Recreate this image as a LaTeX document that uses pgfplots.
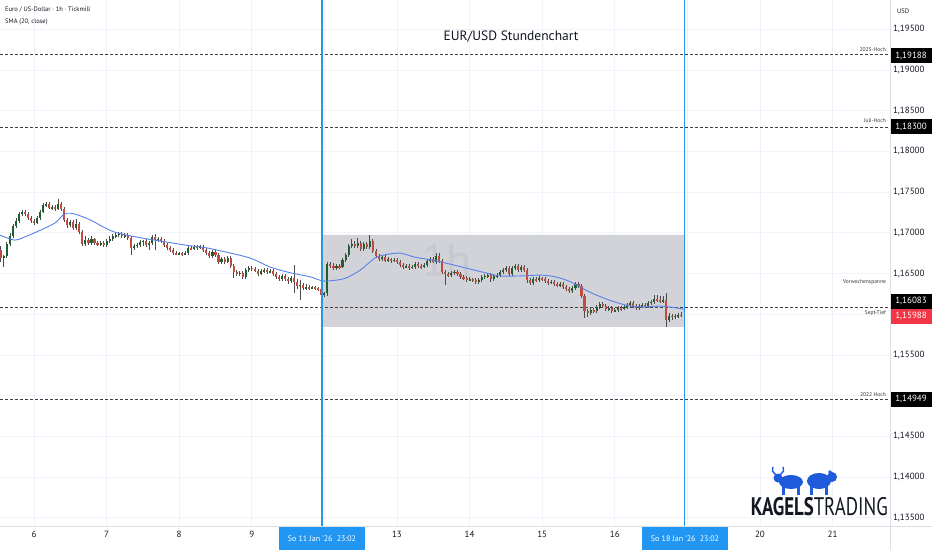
\documentclass[border=0pt]{standalone}
\usepackage{pgfplots}
\pgfplotsset{compat=1.18}
\usepackage{pgfplotstable}
\usepackage{fontspec}
\setmainfont{PT Sans}
\usepackage{graphicx}

\definecolor{gridc}{RGB}{240,243,250}
\definecolor{sepc}{RGB}{220,223,230}
\definecolor{txtc}{RGB}{19,23,34}
\definecolor{vlinec}{RGB}{41,150,230}
\definecolor{datebox}{RGB}{33,150,243}
\definecolor{boxc}{RGB}{210,211,216}
\definecolor{wmc}{RGB}{200,201,207}
\definecolor{upc}{RGB}{30,95,48}
\definecolor{dnc}{RGB}{196,74,62}
\definecolor{wickc}{RGB}{75,75,75}
\definecolor{smac}{RGB}{88,130,235}
\definecolor{redlab}{RGB}{242,54,69}
\definecolor{logoblue}{RGB}{30,90,220}

\pgfplotstableread{
i o h l c
-11 1.1679 1.1684 1.1664 1.1669
-10 1.1669 1.1673 1.1658 1.1672
-9 1.1672 1.1689 1.1669 1.1686
-8 1.1686 1.1700 1.1684 1.1696
-7 1.1696 1.1711 1.1694 1.1708
-6 1.1708 1.1718 1.1706 1.1715
-5 1.1715 1.1726 1.1712 1.1723
-4 1.1723 1.1728 1.1721 1.1726
-3 1.1726 1.1728 1.1721 1.1723
-2 1.1723 1.1726 1.1716 1.1718
-1 1.1718 1.1721 1.1712 1.1715
0 1.1715 1.1717 1.1710 1.1712
1 1.1712 1.1721 1.1711 1.1718
2 1.1718 1.1728 1.1716 1.1726
3 1.1726 1.1737 1.1724 1.1734
4 1.1734 1.1738 1.1732 1.1735
5 1.1735 1.1738 1.1729 1.1730
6 1.1730 1.1734 1.1728 1.1732
7 1.1732 1.1734 1.1727 1.1729
8 1.1729 1.1742 1.1728 1.1735
9 1.1735 1.1738 1.1727 1.1729
10 1.1729 1.1732 1.1713 1.1716
11 1.1716 1.1718 1.1706 1.1710
12 1.1710 1.1716 1.1707 1.1713
13 1.1713 1.1716 1.1703 1.1706
14 1.1706 1.1717 1.1703 1.1711
15 1.1711 1.1713 1.1699 1.1701
16 1.1701 1.1703 1.1684 1.1686
17 1.1686 1.1696 1.1684 1.1691
18 1.1691 1.1694 1.1685 1.1687
19 1.1687 1.1696 1.1685 1.1692
20 1.1692 1.1694 1.1685 1.1687
21 1.1687 1.1690 1.1684 1.1686
22 1.1686 1.1690 1.1684 1.1687
23 1.1687 1.1690 1.1683 1.1685
24 1.1685 1.1692 1.1683 1.1690
25 1.1690 1.1696 1.1687 1.1692
26 1.1692 1.1699 1.1690 1.1696
27 1.1696 1.1700 1.1694 1.1697
28 1.1697 1.1701 1.1695 1.1699
29 1.1699 1.1701 1.1694 1.1696
30 1.1696 1.1700 1.1694 1.1697
31 1.1697 1.1700 1.1691 1.1694
32 1.1694 1.1696 1.1673 1.1681
33 1.1681 1.1686 1.1679 1.1684
34 1.1684 1.1687 1.1681 1.1685
35 1.1685 1.1691 1.1683 1.1689
36 1.1689 1.1691 1.1684 1.1690
37 1.1690 1.1692 1.1683 1.1685
38 1.1685 1.1690 1.1679 1.1687
39 1.1687 1.1697 1.1685 1.1695
40 1.1695 1.1699 1.1679 1.1691
41 1.1691 1.1695 1.1689 1.1692
42 1.1692 1.1695 1.1687 1.1690
43 1.1690 1.1692 1.1683 1.1685
44 1.1685 1.1687 1.1679 1.1681
45 1.1681 1.1684 1.1676 1.1679
46 1.1679 1.1681 1.1673 1.1675
47 1.1675 1.1678 1.1673 1.1674
48 1.1674 1.1676 1.1673 1.1675
49 1.1675 1.1676 1.1672 1.1674
50 1.1674 1.1678 1.1673 1.1675
51 1.1675 1.1684 1.1673 1.1681
52 1.1681 1.1684 1.1679 1.1680
53 1.1680 1.1685 1.1679 1.1683
54 1.1683 1.1685 1.1679 1.1681
55 1.1681 1.1685 1.1680 1.1683
56 1.1683 1.1685 1.1676 1.1679
57 1.1679 1.1681 1.1673 1.1675
58 1.1675 1.1678 1.1669 1.1672
59 1.1672 1.1679 1.1669 1.1676
60 1.1676 1.1679 1.1670 1.1673
61 1.1673 1.1675 1.1662 1.1664
62 1.1664 1.1670 1.1662 1.1668
63 1.1668 1.1670 1.1662 1.1664
64 1.1664 1.1672 1.1663 1.1669
65 1.1669 1.1672 1.1657 1.1659
66 1.1659 1.1662 1.1644 1.1652
67 1.1652 1.1654 1.1647 1.1649
68 1.1649 1.1653 1.1647 1.1651
69 1.1651 1.1653 1.1643 1.1646
70 1.1646 1.1657 1.1643 1.1654
71 1.1654 1.1659 1.1652 1.1657
72 1.1657 1.1659 1.1653 1.1656
73 1.1656 1.1658 1.1652 1.1653
74 1.1653 1.1656 1.1647 1.1649
75 1.1649 1.1656 1.1648 1.1653
76 1.1653 1.1657 1.1651 1.1654
77 1.1654 1.1657 1.1649 1.1652
78 1.1652 1.1656 1.1651 1.1653
79 1.1653 1.1656 1.1647 1.1649
80 1.1649 1.1652 1.1643 1.1646
81 1.1646 1.1648 1.1641 1.1643
82 1.1643 1.1649 1.1641 1.1647
83 1.1647 1.1649 1.1641 1.1643
84 1.1643 1.1646 1.1637 1.1641
85 1.1641 1.1647 1.1638 1.1644
86 1.1644 1.1660 1.1626 1.1640
87 1.1640 1.1643 1.1631 1.1635
88 1.1635 1.1642 1.1617 1.1636
89 1.1636 1.1638 1.1630 1.1632
90 1.1632 1.1637 1.1630 1.1633
91 1.1633 1.1636 1.1630 1.1632
92 1.1632 1.1635 1.1631 1.1633
93 1.1633 1.1635 1.1630 1.1632
94 1.1632 1.1633 1.1628 1.1631
95 1.1631 1.1633 1.1621 1.1624
96 1.1624 1.1627 1.1621 1.1626
97 1.1626 1.1664 1.1622 1.1662
98 1.1662 1.1664 1.1657 1.1659
99 1.1659 1.1663 1.1654 1.1657
100 1.1657 1.1662 1.1654 1.1659
101 1.1659 1.1662 1.1656 1.1658
102 1.1658 1.1669 1.1657 1.1667
103 1.1667 1.1675 1.1664 1.1673
104 1.1673 1.1686 1.1670 1.1684
105 1.1684 1.1692 1.1681 1.1686
106 1.1686 1.1690 1.1681 1.1684
107 1.1684 1.1694 1.1681 1.1687
108 1.1687 1.1690 1.1678 1.1680
109 1.1680 1.1689 1.1678 1.1686
110 1.1686 1.1689 1.1680 1.1683
111 1.1683 1.1697 1.1680 1.1690
112 1.1690 1.1692 1.1675 1.1678
113 1.1678 1.1680 1.1669 1.1672
114 1.1672 1.1674 1.1665 1.1668
115 1.1668 1.1673 1.1665 1.1670
116 1.1670 1.1673 1.1664 1.1665
117 1.1665 1.1670 1.1664 1.1668
118 1.1668 1.1669 1.1663 1.1665
119 1.1665 1.1669 1.1664 1.1667
120 1.1667 1.1669 1.1662 1.1664
121 1.1664 1.1667 1.1658 1.1660
122 1.1660 1.1663 1.1656 1.1658
123 1.1658 1.1662 1.1657 1.1659
124 1.1659 1.1662 1.1654 1.1657
125 1.1657 1.1660 1.1656 1.1658
126 1.1658 1.1664 1.1656 1.1662
127 1.1662 1.1664 1.1657 1.1659
128 1.1659 1.1662 1.1656 1.1658
129 1.1658 1.1663 1.1657 1.1660
130 1.1660 1.1668 1.1658 1.1665
131 1.1665 1.1670 1.1663 1.1668
132 1.1668 1.1670 1.1663 1.1664
133 1.1664 1.1675 1.1662 1.1672
134 1.1672 1.1675 1.1663 1.1665
135 1.1665 1.1668 1.1649 1.1652
136 1.1652 1.1654 1.1636 1.1649
137 1.1649 1.1652 1.1646 1.1648
138 1.1648 1.1653 1.1646 1.1651
139 1.1651 1.1654 1.1648 1.1652
140 1.1652 1.1654 1.1647 1.1649
141 1.1649 1.1652 1.1643 1.1646
142 1.1646 1.1648 1.1642 1.1644
143 1.1644 1.1647 1.1640 1.1642
144 1.1642 1.1646 1.1641 1.1643
145 1.1643 1.1644 1.1640 1.1642
146 1.1642 1.1644 1.1637 1.1640
147 1.1640 1.1644 1.1637 1.1642
148 1.1642 1.1648 1.1640 1.1646
149 1.1646 1.1649 1.1643 1.1647
150 1.1647 1.1651 1.1644 1.1648
151 1.1648 1.1651 1.1640 1.1643
152 1.1643 1.1649 1.1641 1.1647
153 1.1647 1.1651 1.1644 1.1648
154 1.1648 1.1654 1.1646 1.1652
155 1.1652 1.1657 1.1649 1.1654
156 1.1654 1.1659 1.1652 1.1657
157 1.1657 1.1659 1.1647 1.1649
158 1.1649 1.1659 1.1647 1.1657
159 1.1657 1.1662 1.1654 1.1659
160 1.1659 1.1662 1.1652 1.1654
161 1.1654 1.1660 1.1652 1.1658
162 1.1658 1.1660 1.1652 1.1654
163 1.1654 1.1657 1.1638 1.1642
164 1.1642 1.1644 1.1636 1.1638
165 1.1638 1.1646 1.1636 1.1643
166 1.1643 1.1646 1.1640 1.1642
167 1.1642 1.1647 1.1640 1.1644
168 1.1644 1.1646 1.1641 1.1643
169 1.1643 1.1646 1.1638 1.1641
170 1.1641 1.1643 1.1636 1.1638
171 1.1638 1.1642 1.1637 1.1640
172 1.1640 1.1642 1.1635 1.1637
173 1.1637 1.1640 1.1633 1.1636
174 1.1636 1.1640 1.1633 1.1637
175 1.1637 1.1640 1.1631 1.1633
176 1.1633 1.1636 1.1628 1.1631
177 1.1631 1.1633 1.1626 1.1628
178 1.1628 1.1635 1.1626 1.1632
179 1.1632 1.1640 1.1630 1.1637
180 1.1637 1.1640 1.1632 1.1635
181 1.1635 1.1637 1.1620 1.1622
182 1.1622 1.1625 1.1595 1.1604
183 1.1604 1.1606 1.1597 1.1601
184 1.1601 1.1608 1.1599 1.1605
185 1.1605 1.1608 1.1601 1.1604
186 1.1604 1.1611 1.1601 1.1609
187 1.1609 1.1615 1.1606 1.1613
188 1.1613 1.1615 1.1608 1.1610
189 1.1610 1.1613 1.1604 1.1606
190 1.1606 1.1610 1.1604 1.1608
191 1.1608 1.1610 1.1601 1.1604
192 1.1604 1.1608 1.1603 1.1605
193 1.1605 1.1610 1.1603 1.1608
194 1.1608 1.1610 1.1604 1.1606
195 1.1606 1.1611 1.1605 1.1609
196 1.1609 1.1614 1.1606 1.1611
197 1.1611 1.1616 1.1609 1.1614
198 1.1614 1.1616 1.1608 1.1610
199 1.1610 1.1613 1.1605 1.1608
200 1.1608 1.1613 1.1605 1.1610
201 1.1610 1.1614 1.1608 1.1611
202 1.1611 1.1614 1.1608 1.1610
203 1.1610 1.1616 1.1608 1.1614
204 1.1614 1.1617 1.1611 1.1615
205 1.1615 1.1624 1.1613 1.1619
206 1.1619 1.1624 1.1615 1.1617
207 1.1617 1.1622 1.1614 1.1616
208 1.1616 1.1622 1.1614 1.1617
209 1.1617 1.1626 1.1584 1.1593
210 1.1593 1.1601 1.1590 1.1598
211 1.1598 1.1600 1.1593 1.1597
212 1.1597 1.1600 1.1594 1.1598
213 1.1598 1.1601 1.1595 1.1599
214 1.1599 1.1603 1.1597 1.15988
}\candles

\begin{document}
\begin{tikzpicture}
\useasboundingbox (0pt,-24pt) rectangle (932pt,526pt);
\fill[white] (0pt,-24pt) rectangle (932pt,526pt);
\begin{axis}[
  at={(0pt,0pt)}, anchor=south west,
  scale only axis, width=890pt, height=526pt,
  xmin=-11.24, xmax=282.98,
  ymin=1.13398, ymax=1.19860,
  clip=false,
  axis line style={draw=none},
  tick style={draw=none},
  major tick length=0pt,
  xtick={0,24,48,72,96,120,144,168,192,216,240,264},
  xticklabels={6,7,8,9,,13,14,15,16,,20,21},
  ytick={1.135,1.14,1.145,1.15,1.155,1.16,1.165,1.17,1.175,1.18,1.185,1.19,1.195},
  yticklabels={1{,}13500,1{,}14000,1{,}14500,,1{,}15500,,1{,}16500,1{,}17000,1{,}17500,1{,}18000,1{,}18500,1{,}19000,1{,}19500},
  yticklabel pos=right,
  grid=major,
  grid style={color=gridc, line width=0.8pt},
  every tick label/.append style={font=\fontsize{9}{9}\selectfont, text=txtc},
  xticklabel style={yshift=-2pt},
  yticklabel style={anchor=west, xshift=-0.5pt},
]
% Vorwochenspanne (previous week range)
\addplot[fill=boxc, draw=none, forget plot] coordinates {(95.2,1.15843) (215.03,1.15843) (215.03,1.16973) (95.2,1.16973)} \closedcycle;
\node[text=wmc, font=\fontsize{46}{46}\selectfont] at (axis cs:136.5,1.1666) {1h};
% key levels
\addplot[dash pattern=on 2.5pt off 2.5pt, color=black!75, line width=0.7pt, forget plot] coordinates {(-11.24,1.19188) (282.98,1.19188)};
\addplot[dash pattern=on 2.5pt off 2.5pt, color=black!75, line width=0.7pt, forget plot] coordinates {(-11.24,1.18300) (282.98,1.18300)};
\addplot[dash pattern=on 2.5pt off 2.5pt, color=black!75, line width=0.7pt, forget plot] coordinates {(-11.24,1.16083) (282.98,1.16083)};
\addplot[dash pattern=on 2.5pt off 2.5pt, color=black!75, line width=0.7pt, forget plot] coordinates {(-11.24,1.14949) (282.98,1.14949)};
% wicks
\addplot[draw=none, mark=none, forget plot,
  error bars/.cd, y dir=both, y explicit, error mark=none,
  error bar style={line width=0.6pt, color=wickc}]
  table[x=i, y expr={(\thisrow{h}+\thisrow{l})/2}, y error expr={(\thisrow{h}-\thisrow{l})/2}] {\candles};
% up bodies
\addplot[draw=none, mark=none, forget plot,
  restrict expr to domain={\thisrow{c}-\thisrow{o}}{0:1},
  error bars/.cd, y dir=both, y explicit, error mark=none,
  error bar style={line width=2.1pt, color=upc}]
  table[x=i, y expr={(\thisrow{o}+\thisrow{c})/2}, y error expr={abs(\thisrow{c}-\thisrow{o})/2}] {\candles};
% down bodies
\addplot[draw=none, mark=none, forget plot,
  restrict expr to domain={\thisrow{c}-\thisrow{o}}{-1:0},
  error bars/.cd, y dir=both, y explicit, error mark=none,
  error bar style={line width=2.1pt, color=dnc}]
  table[x=i, y expr={(\thisrow{o}+\thisrow{c})/2}, y error expr={abs(\thisrow{c}-\thisrow{o})/2}] {\candles};
% SMA (20, close)
\addplot[smooth, color=smac, line width=0.9pt, forget plot] coordinates {
(-11.2,1.1697) (-6.3,1.1691) (-3.0,1.1695) (2.0,1.1703) (6.9,1.1712) (9.6,1.1722) (10.9,1.1724)
(13.6,1.1723) (18.5,1.1716) (23.5,1.1706) (27.4,1.1700) (35.0,1.1694) (43.3,1.1689) (51.6,1.1684)
(54.9,1.1683) (61.5,1.1678) (71.4,1.1669) (78.0,1.1658) (84.6,1.1651) (91.2,1.1646) (95.2,1.1641)
(97.9,1.1641) (102.8,1.1644) (107.8,1.1654) (112.7,1.1669) (116.0,1.1673) (121.0,1.1675) (126.0,1.1670)
(130.9,1.1667) (135.9,1.1663) (142.5,1.1657) (149.1,1.1651) (154.0,1.1647) (160.7,1.1647) (167.3,1.1648)
(172.2,1.1646) (177.2,1.1640) (183.8,1.1627) (190.4,1.1617) (197.0,1.1610) (202.0,1.1609) (206.9,1.1610)
(211.9,1.1608) (214.9,1.1606)};
% vertical lines
\addplot[draw=vlinec, line width=1.0pt, forget plot] coordinates {(215.03,1.13398) (215.03,1.19860)};
\addplot[draw=vlinec, line width=1.3pt, forget plot] coordinates {(95.2,1.19860) (95.2,1.13398)};
\end{axis}
% separators
\draw[sepc, line width=0.8pt] (890pt,-24pt) -- (890pt,526pt);
\draw[sepc, line width=0.8pt] (0pt,0pt) -- (932pt,0pt);
% header texts
\node[anchor=west, text=txtc, font=\fontsize{6.5}{6.5}\selectfont, inner sep=0pt] at (5pt,516pt) {Euro / US-Dollar · 1h · Tickmill};
\node[anchor=west, text=txtc, font=\fontsize{6.5}{6.5}\selectfont, inner sep=0pt] at (5pt,504pt) {SMA (20, close)};
\node[text=txtc, font=\fontsize{13.5}{13.5}\selectfont] at (511pt,489pt) {EUR/USD Stundenchart};
\node[anchor=west, text=txtc, font=\fontsize{6.5}{6.5}\selectfont, inner sep=0pt] at (897pt,515pt) {USD};
% level labels
\begin{scope}[every node/.style={anchor=east, text=black!80, font=\fontsize{5.5}{5.5}\selectfont, inner sep=0pt}]
\node at (886pt,476pt) {2025-Hoch};
\node at (886pt,405pt) {Juli-Hoch};
\node at (886pt,244pt) {Vorwochenspanne};
\node at (886pt,213pt) {Sept-Tief};
\node at (886pt,131pt) {2022 Hoch};
\end{scope}
% price boxes
\begin{scope}[every node/.style={text=white, font=\fontsize{9}{9}\selectfont, minimum width=41pt, minimum height=15pt, inner sep=0pt}]
\node[fill=black] at (911pt,470pt) {1,19188};
\node[fill=black] at (911pt,399pt) {1,18300};
\node[fill=black] at (911pt,225pt) {1,16083};
\node[fill=redlab] at (911pt,210pt) {1,15988};
\node[fill=black] at (911pt,127pt) {1,14949};
\end{scope}
% date boxes
\begin{scope}[every node/.style={fill=datebox, text=white, font=\fontsize{8}{8}\selectfont, minimum width=86pt, minimum height=23pt, inner sep=0pt}]
\node at (322pt,-12.5pt) {So 11 Jan '26\ \ 23:02};
\node at (685pt,-12.5pt) {So 18 Jan '26\ \ 23:02};
\end{scope}
% logo: bull and bear silhouettes
\fill[logoblue] (791pt,44pt) ellipse (12pt and 7pt);
\fill[logoblue] (778pt,48pt) circle (4.5pt);
\draw[logoblue, line width=1.4pt] (776pt,51pt) .. controls (772pt,55pt) .. (773pt,59pt);
\draw[logoblue, line width=1.4pt] (780pt,51pt) .. controls (784pt,55pt) .. (783pt,59pt);
\fill[logoblue] (782pt,31pt) rectangle (785pt,40pt);
\fill[logoblue] (797pt,31pt) rectangle (800pt,40pt);
\fill[logoblue] (819pt,45pt) ellipse (12pt and 8pt);
\fill[logoblue] (832pt,49pt) circle (5pt);
\fill[logoblue] (830pt,54pt) circle (1.8pt);
\fill[logoblue] (810pt,31pt) rectangle (813pt,40pt);
\fill[logoblue] (825pt,31pt) rectangle (828pt,40pt);
\node[anchor=east, text=txtc, inner sep=0pt] at (888pt,19pt) {\scalebox{1}[1.35]{\fontsize{18.8}{18.8}\selectfont\textbf{KAGELS}TRADING}};
\end{tikzpicture}
\end{document}
